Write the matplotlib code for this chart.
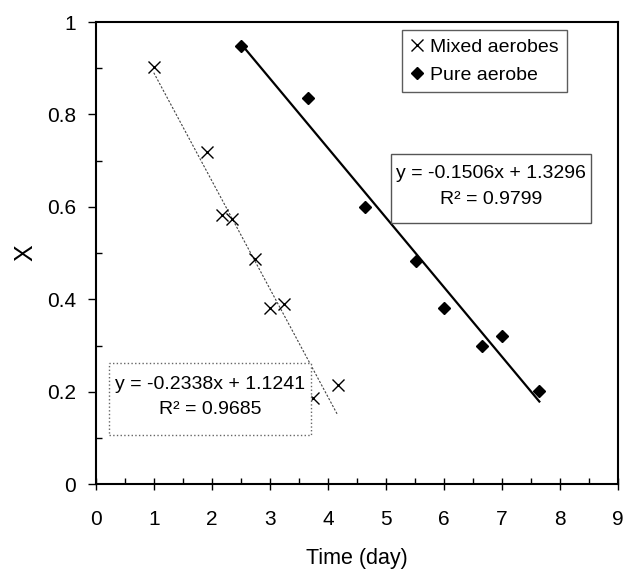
import numpy as np
import matplotlib
matplotlib.use("Agg")
import matplotlib.pyplot as plt
from matplotlib.patches import Rectangle
from matplotlib.ticker import MultipleLocator, FixedLocator

plt.rcParams['font.family'] = ['Liberation Sans', 'DejaVu Sans']

# Data
mixed_t = [1.00, 1.91, 2.18, 2.34, 2.74, 3.00, 3.25, 3.75, 4.17]
mixed_x = [0.902, 0.718, 0.583, 0.574, 0.487, 0.381, 0.391, 0.187, 0.215]
pure_t = [2.51, 3.65, 4.64, 5.52, 5.99, 6.65, 6.99, 7.64]
pure_x = [0.949, 0.835, 0.599, 0.482, 0.381, 0.299, 0.321, 0.202]

# Trend line coefficients (slope, intercept, R²) shown on the chart
mixed_fit = (-0.2338, 1.1241, 0.9685)
pure_fit = (-0.1506, 1.3296, 0.9799)

x_ticks = [0, 1, 2, 3, 4, 5, 6, 7, 8, 9]
y_ticks = [0, 0.2, 0.4, 0.6, 0.8, 1.0]
y_tick_labels = ["0", "0.2", "0.4", "0.6", "0.8", "1"]

fig = plt.figure(figsize=(6.26, 5.70), dpi=100)
ax = fig.add_axes([0.1529, 0.1504, 0.8348, 0.8110])

FS = 15

# trend lines
tm = np.array([min(mixed_t), max(mixed_t)])
ax.plot(tm, mixed_fit[0] * tm + mixed_fit[1], color='#444444', lw=0.8,
        linestyle=(0, (2, 1.5)), zorder=2)
tp = np.array([min(pure_t), max(pure_t)])
ax.plot(tp, pure_fit[0] * tp + pure_fit[1], color='black', lw=1.6, zorder=2)

# data
ax.plot(mixed_t, mixed_x, linestyle='none', marker='x', markersize=9,
        markeredgewidth=1.0, color='black', label='Mixed aerobes', zorder=3)
ax.plot(pure_t, pure_x, linestyle='none', marker='D', markersize=6.5,
        color='black', label='Pure aerobe', zorder=3)

ax.set_xlim(0, 9)
ax.set_ylim(0, 1)
ax.xaxis.set_major_locator(FixedLocator(x_ticks))
ax.set_xticklabels([str(t) for t in x_ticks])
ax.xaxis.set_minor_locator(MultipleLocator(0.5))
ax.yaxis.set_major_locator(FixedLocator(y_ticks))
ax.set_yticklabels(y_tick_labels)
ax.yaxis.set_minor_locator(MultipleLocator(0.1))

ax.tick_params(axis='x', which='major', direction='inout', length=9, width=1,
               labelsize=FS, pad=14)
ax.tick_params(axis='x', which='minor', direction='in', length=4, width=1)
ax.tick_params(axis='y', which='major', direction='out', length=6, width=1,
               labelsize=FS, pad=8)
ax.tick_params(axis='y', which='minor', direction='in', length=4, width=1)

for s in ax.spines.values():
    s.set_linewidth(1.5)
    s.set_color('black')

ax.set_xlabel('Time (day)', fontsize=FS + 0.5, labelpad=14)
ax.set_ylabel('X', fontsize=FS + 3, labelpad=7)

leg = ax.legend(loc='upper left', bbox_to_anchor=(0.587, 0.983), fontsize=FS - 1,
                frameon=True, fancybox=False, edgecolor='#333333',
                handlelength=0.6, handletextpad=0.35, borderpad=0.45,
                labelspacing=0.5, borderaxespad=0)
leg.get_frame().set_linewidth(1.0)

# equation boxes
def eq_box(x0, y0, x1, y1, cx, ly1, ly2, fit, ls, ec):
    ax.add_patch(Rectangle((x0, y0), x1 - x0, y1 - y0, transform=ax.transAxes,
                           fill=True, facecolor='white', edgecolor=ec,
                           linestyle=ls, lw=1.0, zorder=4))
    ax.text(cx, ly1, f"y = {fit[0]:.4f}x + {fit[1]:.4f}", transform=ax.transAxes,
            ha='center', va='center', fontsize=FS - 1, zorder=5)
    ax.text(cx, ly2, f"R² = {fit[2]:.4f}", transform=ax.transAxes,
            ha='center', va='center', fontsize=FS - 1, zorder=5)

eq_box(0.565, 0.5646, 0.948, 0.7145, 0.757, 0.6727, 0.615, pure_fit, '-', '#555555')
eq_box(0.026, 0.1066, 0.4114, 0.2617, 0.2187, 0.2148, 0.1607, mixed_fit, ':', '#666666')

fig.savefig('out.png', dpi=100)
